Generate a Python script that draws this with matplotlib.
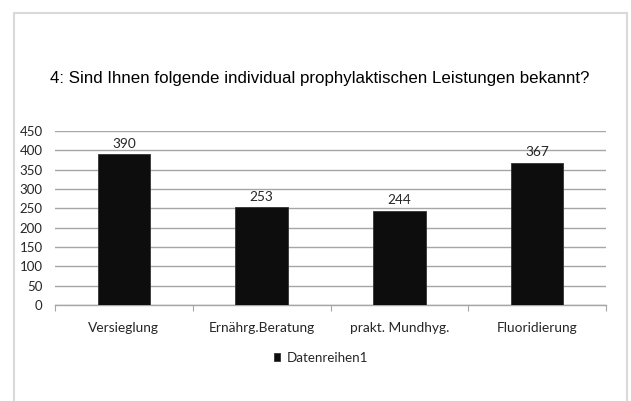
import matplotlib
matplotlib.use("Agg")
import matplotlib.pyplot as plt
from matplotlib.patches import Rectangle

# data
categories = ["Versieglung", "Ernährg.Beratung", "prakt. Mundhyg.", "Fluoridierung"]
values = [390, 253, 244, 367]
yticks = [0, 50, 100, 150, 200, 250, 300, 350, 400, 450]
series_name = "Datenreihen1"
title = "4: Sind Ihnen folgende individual prophylaktischen Leistungen bekannt?"

label_font = ["Lato", "DejaVu Sans"]
txt_col = "#262626"

fig = plt.figure(figsize=(6.31, 4.01), dpi=100)
fig.patch.set_facecolor("white")

# outer chart frame (bottom edge runs off the picture)
fig.patches.append(Rectangle((14 / 631, -0.05), (627 - 14) / 631, 1.05 - 13 / 401,
                             transform=fig.transFigure, fill=False,
                             edgecolor="#d9d9d9", linewidth=1.5))

ax = fig.add_axes([55 / 631, 1 - 305 / 401, (606 - 55) / 631, (305 - 131) / 401])

x = range(len(categories))
bars = ax.bar(x, values, width=0.38, color="#0d0d0d", edgecolor="#333333",
              linewidth=0.6, zorder=3, label=series_name)

for b, v in zip(bars, values):
    ax.text(b.get_x() + b.get_width() / 2, v + 12, str(v), ha="center", va="bottom",
            fontsize=9.8, family=label_font, color=txt_col)

ax.set_xlim(-0.5, len(categories) - 0.5)
ax.set_ylim(0, 450)
ax.set_yticks(yticks)
ax.set_yticklabels([str(t) for t in yticks], fontsize=9.5, family=label_font, color=txt_col)
ax.yaxis.grid(True, color="#a6a6a6", linewidth=1.0, zorder=0)
ax.set_axisbelow(True)
ax.tick_params(axis="y", length=0, pad=9)

ax.set_xticks([i - 0.5 for i in range(len(categories) + 1)], minor=False)
ax.set_xticklabels([])
ax.set_xticks(list(x), minor=True)
ax.set_xticklabels(categories, minor=True, fontsize=9.9, family=label_font, color=txt_col)
ax.tick_params(axis="x", which="major", length=4, color="#a6a6a6", direction="out")
ax.tick_params(axis="x", which="minor", length=0, pad=12)

for s in ["top", "right", "left"]:
    ax.spines[s].set_visible(False)
ax.spines["bottom"].set_color("#a6a6a6")
ax.spines["bottom"].set_linewidth(1.0)

fig.text(0.507, 1 - 78 / 401, title, ha="center", va="center", fontsize=12.2,
         family=["Liberation Sans", "DejaVu Sans"], color="#000000")

leg = fig.legend(handles=[bars], labels=[series_name], loc="center",
                 bbox_to_anchor=(321 / 631, 1 - 358 / 401), frameon=False,
                 prop={"family": label_font, "size": 9.6}, handlelength=0.5,
                 handleheight=0.5, handletextpad=0.5)
for t in leg.get_texts():
    t.set_color(txt_col)

fig.savefig("out.png", dpi=100, facecolor="white")
